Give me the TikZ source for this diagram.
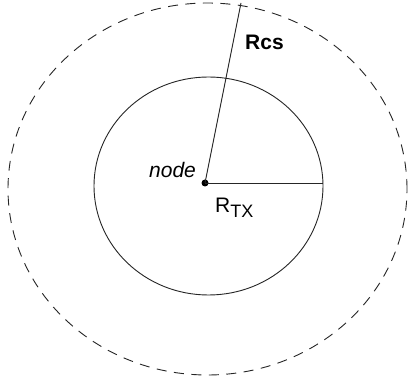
\documentclass[tikz,border=0pt]{standalone}
\usepackage{fontspec}
\setmainfont{Liberation Sans}
\begin{document}
\begin{tikzpicture}[x=1pt,y=-1pt,
  lbl/.style={inner sep=0pt,font=\fontsize{21}{21}\selectfont},
  ln/.style={line width=0.9pt,draw=black!85}]
\useasboundingbox (0,0) rectangle (408,382);
\fill[white] (0,0) rectangle (408,382);
% outer dashed circle
\draw[ln,dash pattern=on 10pt off 7.5pt] (207.5,189) ellipse [x radius=199.5pt, y radius=186pt];
% inner circle
\draw[ln] (208.5,186) ellipse [x radius=114.5pt, y radius=109pt];
\node[circle,fill=black,inner sep=0pt,minimum size=7pt] (c) at (205,183) {};
\coordinate (tx) at (323,183);
\coordinate (cs) at (241,3);
\draw[ln] (c.center) -- (tx);
\draw[ln] (c.center) -- (cs);
\node[lbl,anchor=base west,font=\fontsize{21}{21}\selectfont\itshape] (nd) at (149,178) {node};
\node[lbl,anchor=base west,font=\fontsize{21}{21}\selectfont\bfseries] (rcs) at (245,50) {Rcs};
\node[lbl,anchor=base west] (rtx) at (215,213) {R\raisebox{-0.4ex}{\fontsize{18}{18}\selectfont TX}};
\end{tikzpicture}
\end{document}
